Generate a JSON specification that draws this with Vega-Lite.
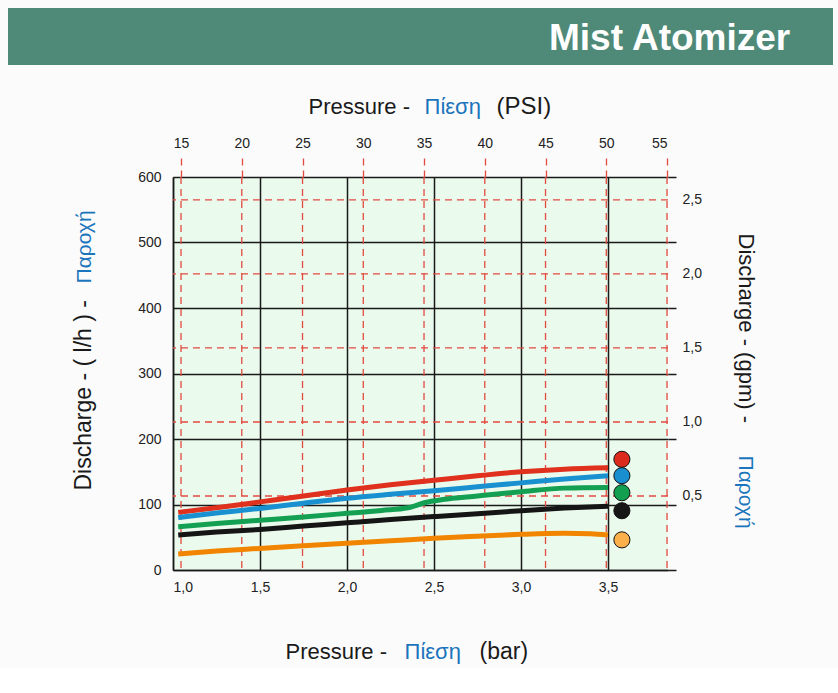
{
  "$schema": "https://vega.github.io/schema/vega-lite/v6.json",
  "background": "#fbfbfb",
  "padding": {"left": 8, "top": 8, "right": 5, "bottom": 5},
  "config": {"font": "Liberation Sans", "view": {"stroke": null}},
  "datasets": {
    "header": [{"label": "Mist Atomizer"}],
    "curves": [
      {"series": "Red", "bar": 1.03, "lh": 88},
      {"series": "Red", "bar": 1.25, "lh": 95},
      {"series": "Red", "bar": 1.5, "lh": 104},
      {"series": "Red", "bar": 1.75, "lh": 113},
      {"series": "Red", "bar": 2.0, "lh": 122},
      {"series": "Red", "bar": 2.25, "lh": 130},
      {"series": "Red", "bar": 2.5, "lh": 137},
      {"series": "Red", "bar": 2.75, "lh": 144},
      {"series": "Red", "bar": 3.0, "lh": 150},
      {"series": "Red", "bar": 3.25, "lh": 154},
      {"series": "Red", "bar": 3.5, "lh": 156},
      {"series": "Blue", "bar": 1.03, "lh": 80},
      {"series": "Blue", "bar": 1.25, "lh": 87},
      {"series": "Blue", "bar": 1.5, "lh": 94},
      {"series": "Blue", "bar": 1.75, "lh": 102},
      {"series": "Blue", "bar": 2.0, "lh": 109.5},
      {"series": "Blue", "bar": 2.25, "lh": 115.5},
      {"series": "Blue", "bar": 2.5, "lh": 121},
      {"series": "Blue", "bar": 2.75, "lh": 127},
      {"series": "Blue", "bar": 3.0, "lh": 133},
      {"series": "Blue", "bar": 3.25, "lh": 139},
      {"series": "Blue", "bar": 3.5, "lh": 144},
      {"series": "Green", "bar": 1.03, "lh": 66},
      {"series": "Green", "bar": 1.25, "lh": 71},
      {"series": "Green", "bar": 1.5, "lh": 76},
      {"series": "Green", "bar": 1.75, "lh": 81},
      {"series": "Green", "bar": 2.0, "lh": 86.5},
      {"series": "Green", "bar": 2.2, "lh": 91},
      {"series": "Green", "bar": 2.35, "lh": 95},
      {"series": "Green", "bar": 2.45, "lh": 103},
      {"series": "Green", "bar": 2.55, "lh": 107.5},
      {"series": "Green", "bar": 2.75, "lh": 113},
      {"series": "Green", "bar": 3.0, "lh": 119.5},
      {"series": "Green", "bar": 3.25, "lh": 125},
      {"series": "Green", "bar": 3.5, "lh": 126},
      {"series": "Black", "bar": 1.03, "lh": 53.5},
      {"series": "Black", "bar": 1.25, "lh": 58},
      {"series": "Black", "bar": 1.5, "lh": 62},
      {"series": "Black", "bar": 1.75, "lh": 67},
      {"series": "Black", "bar": 2.0, "lh": 72},
      {"series": "Black", "bar": 2.25, "lh": 77},
      {"series": "Black", "bar": 2.5, "lh": 81.5},
      {"series": "Black", "bar": 2.75, "lh": 86},
      {"series": "Black", "bar": 3.0, "lh": 90.5},
      {"series": "Black", "bar": 3.25, "lh": 94.5},
      {"series": "Black", "bar": 3.5, "lh": 97.5},
      {"series": "Orange", "bar": 1.03, "lh": 24.5},
      {"series": "Orange", "bar": 1.25, "lh": 29},
      {"series": "Orange", "bar": 1.5, "lh": 33},
      {"series": "Orange", "bar": 1.75, "lh": 37},
      {"series": "Orange", "bar": 2.0, "lh": 40.7},
      {"series": "Orange", "bar": 2.25, "lh": 44.5},
      {"series": "Orange", "bar": 2.5, "lh": 48.3},
      {"series": "Orange", "bar": 2.75, "lh": 51.5},
      {"series": "Orange", "bar": 3.0, "lh": 54.4},
      {"series": "Orange", "bar": 3.25, "lh": 56},
      {"series": "Orange", "bar": 3.4, "lh": 55.5},
      {"series": "Orange", "bar": 3.5, "lh": 53.5}
    ],
    "dots": [
      {"series": "Red", "bar": 3.58, "lh": 169},
      {"series": "Blue", "bar": 3.58, "lh": 144},
      {"series": "Green", "bar": 3.58, "lh": 118},
      {"series": "Black", "bar": 3.58, "lh": 90.5},
      {"series": "Orange", "bar": 3.58, "lh": 46}
    ],
    "psiTicks": [{"psi": 15}, {"psi": 20}, {"psi": 25}, {"psi": 30}, {"psi": 35}, {"psi": 40}, {"psi": 45}, {"psi": 50}, {"psi": 55}],
    "gpmTicks": [{"gpm": 0.5}, {"gpm": 1.0}, {"gpm": 1.5}, {"gpm": 2.0}, {"gpm": 2.5}]
  },
  "vconcat": [
    {
      "width": 825,
      "height": 57,
      "view": {"fill": "#4f8a79", "stroke": null},
      "data": {"name": "header"},
      "mark": {"type": "text", "align": "left", "baseline": "middle", "font": "Liberation Sans", "fontWeight": "bold", "fontSize": 37, "color": "#ffffff", "dx": 128.5, "dy": 2},
      "encoding": {"text": {"field": "label", "type": "nominal"}}
    },
    {
      "width": 495,
      "height": 393,
      "view": {"fill": "#eafaec", "stroke": null},
      "layer": [
        {
          "data": {"name": "psiTicks"},
          "mark": {"type": "rule", "color": "#e34a40", "strokeDash": [7, 5], "strokeWidth": 1.3},
          "encoding": {
            "x": {"field": "psi", "type": "quantitative", "scale": {"domain": [14.34, 55.08], "nice": false, "zero": false},
              "axis": {"orient": "top", "values": [15, 20, 25, 30, 35, 40, 45, 50, 55], "grid": false, "domain": false, "ticks": true, "tickSize": 24, "tickColor": "#e34a40", "tickDash": [7, 5], "tickWidth": 1.3, "labelFontSize": 14, "labelPadding": 3, "labelColor": "#222222",
                "title": "Pressure -", "titleX": 135, "titleY": -64, "titleAlign": "left", "titleAngle": 0, "titleBaseline": "alphabetic", "titleFontSize": 22, "titleFontWeight": "normal", "titleColor": "#1a1a1a"}}
          }
        },
        {
          "data": {"name": "gpmTicks"},
          "mark": {"type": "rule", "color": "#e34a40", "strokeDash": [7, 5], "strokeWidth": 1.3},
          "encoding": {
            "y": {"field": "gpm", "type": "quantitative", "scale": {"domain": [0, 2.655], "nice": false, "zero": false},
              "axis": {"orient": "right", "values": [0.5, 1.0, 1.5, 2.0, 2.5], "grid": false, "domain": false, "ticks": false, "labelFontSize": 14, "labelPadding": 14, "labelColor": "#222222", "labelExpr": "replace(format(datum.value, '.1f'), '.', ',')",
                "title": "Discharge - (gpm) -", "titleX": 70, "titleY": 56, "titleAlign": "left", "titleAngle": 90, "titleBaseline": "alphabetic", "titleFontSize": 22, "titleFontWeight": "normal", "titleColor": "#1a1a1a"}}
          }
        },
        {
          "data": {"name": "curves"},
          "mark": {"type": "line", "strokeWidth": 5, "interpolate": "monotone", "strokeCap": "butt"},
          "encoding": {
            "x": {"field": "bar", "type": "quantitative", "scale": {"domain": [1.0, 3.845], "nice": false, "zero": false},
              "axis": {"orient": "bottom", "values": [1.0, 1.5, 2.0, 2.5, 3.0, 3.5], "grid": true, "gridColor": "#1a1a1a", "gridWidth": 1.5, "domain": true, "domainColor": "#1a1a1a", "domainWidth": 1.5, "ticks": false, "labelFontSize": 14, "labelPadding": 10, "labelDx": 5, "labelColor": "#222222", "labelExpr": "replace(format(datum.value, '.1f'), '.', ',')",
                "title": "Pressure -", "titleX": 112, "titleY": 88, "titleAlign": "left", "titleAngle": 0, "titleBaseline": "alphabetic", "titleFontSize": 22, "titleFontWeight": "normal", "titleColor": "#1a1a1a"}},
            "y": {"field": "lh", "type": "quantitative", "scale": {"domain": [0, 600], "nice": false, "zero": true},
              "axis": {"orient": "left", "values": [0, 100, 200, 300, 400, 500, 600], "grid": true, "gridColor": "#1a1a1a", "gridWidth": 1.5, "domain": true, "domainColor": "#1a1a1a", "domainWidth": 1.5, "ticks": false, "labelFontSize": 14, "labelPadding": 12, "labelColor": "#222222",
                "title": "Discharge - ( l/h ) -", "titleX": -83, "titleY": 313, "titleAlign": "left", "titleAngle": -90, "titleBaseline": "alphabetic", "titleFontSize": 23, "titleFontWeight": "normal", "titleColor": "#1a1a1a"}},
            "stroke": {"field": "series", "type": "nominal", "scale": {"domain": ["Red", "Blue", "Green", "Black", "Orange"], "range": ["#e0301e", "#1990d0", "#14a052", "#151515", "#f28500"]}, "legend": null}
          }
        },
        {
          "data": {"name": "dots"},
          "mark": {"type": "circle", "size": 260, "opacity": 1, "stroke": "#111111", "strokeWidth": 1},
          "encoding": {
            "x": {"field": "bar", "type": "quantitative", "scale": {"domain": [1.0, 3.845], "nice": false, "zero": false}, "axis": null},
            "y": {"field": "lh", "type": "quantitative", "scale": {"domain": [0, 600], "nice": false, "zero": true}, "axis": null},
            "fill": {"field": "series", "type": "nominal", "scale": {"domain": ["Red", "Blue", "Green", "Black", "Orange"], "range": ["#dc2a1c", "#1a8fd0", "#12a050", "#161616", "#fbb04c"]}, "legend": null}
          }
        },
        {
          "data": {"name": "curves"},
          "mark": {"type": "point", "opacity": 0},
          "encoding": {
            "x": {"field": "bar", "type": "quantitative", "scale": {"domain": [1.0, 3.845], "nice": false, "zero": false},
              "axis": {"orient": "bottom", "grid": false, "domain": false, "ticks": false, "labels": false,
                "title": "Πίεση", "titleX": 231, "titleY": 88, "titleAlign": "left", "titleAngle": 0, "titleBaseline": "alphabetic", "titleFontSize": 22, "titleFontWeight": "normal", "titleColor": "#1b75bc"}},
            "y": {"field": "lh", "type": "quantitative", "scale": {"domain": [0, 600], "nice": false},
              "axis": {"orient": "left", "grid": false, "domain": false, "ticks": false, "labels": false,
                "title": "Παροχή", "titleX": -83, "titleY": 106, "titleAlign": "left", "titleAngle": -90, "titleBaseline": "alphabetic", "titleFontSize": 21, "titleFontWeight": "normal", "titleColor": "#1b75bc"}}
          }
        },
        {
          "data": {"name": "curves"},
          "mark": {"type": "point", "opacity": 0},
          "encoding": {
            "x": {"field": "bar", "type": "quantitative", "scale": {"domain": [1.0, 3.845], "nice": false, "zero": false},
              "axis": {"orient": "bottom", "grid": false, "domain": false, "ticks": false, "labels": false,
                "title": "(bar)", "titleX": 306, "titleY": 88, "titleAlign": "left", "titleAngle": 0, "titleBaseline": "alphabetic", "titleFontSize": 23, "titleFontWeight": "normal", "titleColor": "#1a1a1a"}},
            "y": {"field": "lh", "type": "quantitative", "scale": {"domain": [0, 600], "nice": false},
              "axis": {"orient": "right", "values": [0, 100, 200, 300, 400, 500, 600], "grid": false, "domain": false, "ticks": true, "tickSize": 8, "tickColor": "#1a1a1a", "tickWidth": 1.5, "labels": false,
                "title": "Παροχή", "titleX": 70, "titleY": 278, "titleAlign": "left", "titleAngle": 90, "titleBaseline": "alphabetic", "titleFontSize": 21, "titleFontWeight": "normal", "titleColor": "#1b75bc"}}
          }
        },
        {
          "data": {"name": "curves"},
          "mark": {"type": "point", "opacity": 0},
          "encoding": {
            "x": {"field": "bar", "type": "quantitative", "scale": {"domain": [1.0, 3.845], "nice": false, "zero": false},
              "axis": {"orient": "top", "grid": false, "domain": false, "ticks": false, "labels": false,
                "title": "Πίεση", "titleX": 251, "titleY": -64, "titleAlign": "left", "titleAngle": 0, "titleBaseline": "alphabetic", "titleFontSize": 22, "titleFontWeight": "normal", "titleColor": "#1b75bc"}},
            "y": {"field": "lh", "type": "quantitative", "scale": {"domain": [0, 600], "nice": false}, "axis": null}
          }
        },
        {
          "data": {"name": "curves"},
          "mark": {"type": "point", "opacity": 0},
          "encoding": {
            "x": {"field": "bar", "type": "quantitative", "scale": {"domain": [1.0, 3.845], "nice": false, "zero": false},
              "axis": {"orient": "top", "grid": false, "domain": false, "ticks": false, "labels": false,
                "title": "(PSI)", "titleX": 323, "titleY": -64, "titleAlign": "left", "titleAngle": 0, "titleBaseline": "alphabetic", "titleFontSize": 24, "titleFontWeight": "normal", "titleColor": "#1a1a1a"}},
            "y": {"field": "lh", "type": "quantitative", "scale": {"domain": [0, 600], "nice": false}, "axis": null}
          }
        }
      ],
      "resolve": {"scale": {"x": "independent", "y": "independent"}}
    }
  ],
  "spacing": 112,
  "bounds": "flush",
  "center": true
}
